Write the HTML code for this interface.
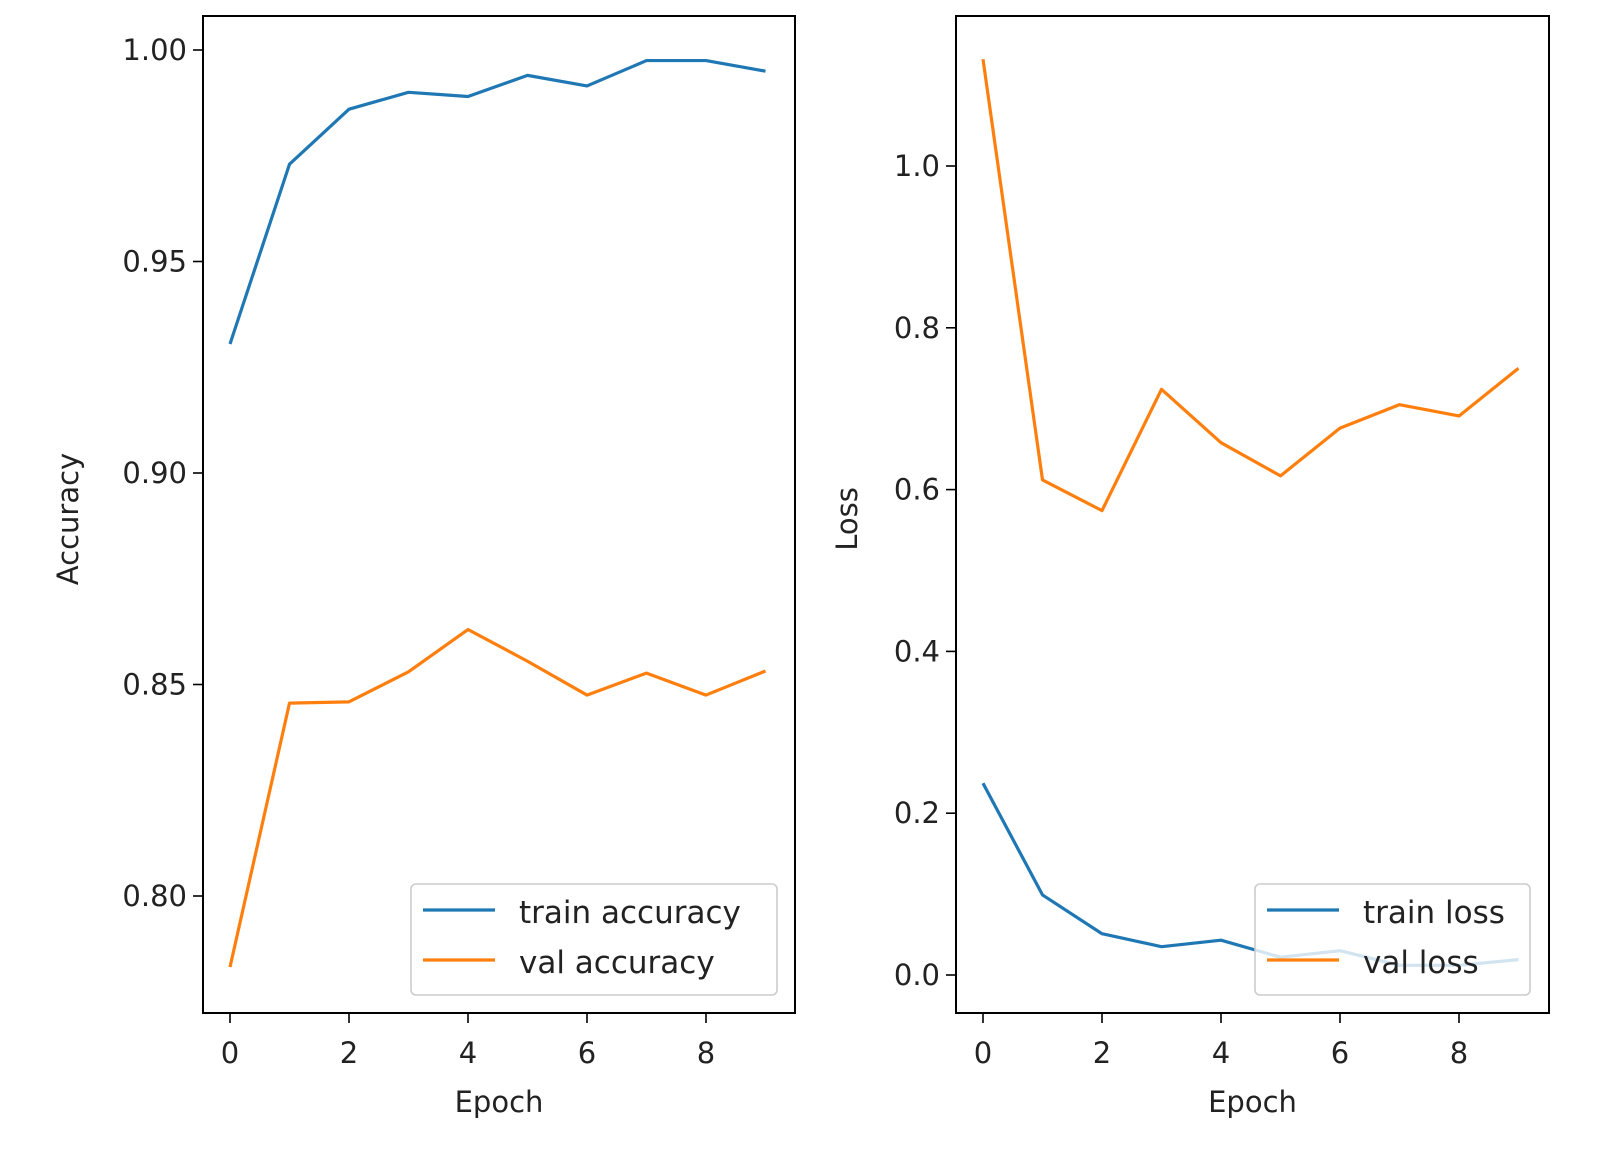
<!DOCTYPE html>
<html><head><meta charset="utf-8"><style>
html,body{margin:0;padding:0;background:#fff;}
svg{display:block;font-family:"DejaVu Sans","Liberation Sans",sans-serif;}
</style></head><body>
<svg id="chart" width="1602" height="1150" viewBox="0 0 1602 1150"></svg>
<script>
const epochs=[0,1,2,3,4,5,6,7,8,9];
const trainAcc=[0.9305,0.973,0.986,0.990,0.989,0.994,0.9915,0.9975,0.9975,0.995];
const valAcc=[0.7832,0.8456,0.8459,0.853,0.863,0.8555,0.8475,0.8527,0.8475,0.8532];
const trainLoss=[0.237,0.099,0.051,0.035,0.043,0.022,0.030,0.012,0.012,0.019];
const valLoss=[1.132,0.612,0.574,0.724,0.658,0.617,0.676,0.705,0.691,0.750];
const xTicks=[0,2,4,6,8];
const accTicks=[0.80,0.85,0.90,0.95,1.00];
const lossTicks=[0.0,0.2,0.4,0.6,0.8,1.0];
const NS="http://www.w3.org/2000/svg";
const svg=document.getElementById('chart');
function mk(tag,attrs,parent){const e=document.createElementNS(NS,tag);for(const k in attrs)e.setAttribute(k,attrs[k]);(parent||svg).appendChild(e);return e;}
function panel(o){
  const g=mk('g',{});
  
  
  const xs=v=>o.x0+(v-0)*o.xpx;
  const ys=v=>o.yRef+(o.vRef-v)*o.ypx;
  // lines
  [[o.a,'#1f77b4',o.aName],[o.b,'#ff7f0e',o.bName]].forEach(([arr,c,n])=>{
    const p=mk('polyline',{points:arr.map((v,i)=>xs(epochs[i])+','+ys(v)).join(' '),fill:'none',stroke:c,'stroke-width':3.2,'stroke-linejoin':'round'},g);
    
    
  });
  const fr=mk('rect',{x:o.L,y:16,width:o.R-o.L,height:997,fill:'none',stroke:'#000','stroke-width':2},g);
  
  
  xTicks.forEach(t=>{
    mk('line',{x1:xs(t),x2:xs(t),y1:1013,y2:1023,stroke:'#000','stroke-width':1.6},g);
    const tx=mk('text',{x:xs(t),y:1063,'text-anchor':'middle','font-size':29,fill:'#222'},g);tx.textContent=String(t);
    
    
  });
  o.yt.forEach(t=>{
    mk('line',{x1:o.L-10,x2:o.L,y1:ys(t),y2:ys(t),stroke:'#000','stroke-width':1.6},g);
    const tx=mk('text',{x:o.L-16,y:ys(t)+10,'text-anchor':'end','font-size':29,fill:'#222'},g);tx.textContent=t.toFixed(o.dec);
    
    
  });
  const xl=mk('text',{x:(o.L+o.R)/2,y:1112,'text-anchor':'middle','font-size':29,fill:'#222'},g);xl.textContent='Epoch';
  
  
  const yl=mk('text',{x:0,y:0,'text-anchor':'middle','font-size':29,fill:'#222',transform:`translate(${o.ylx},${o.yly}) rotate(-90)`},g);yl.textContent=o.ylabel;
  
  
  const lg=mk('g',{},g);
  
  
  mk('rect',{x:o.lx,y:884,width:o.lw,height:111,rx:5,fill:'rgba(255,255,255,0.8)',stroke:'#ccc','stroke-width':1.6},lg);
  [[o.aLabel,'#1f77b4',913],[o.bLabel,'#ff7f0e',963]].forEach(([t,c,y])=>{
    mk('line',{x1:o.lx+12,x2:o.lx+84,y1:y-3,y2:y-3,stroke:c,'stroke-width':3.2},lg);
    const tx=mk('text',{x:o.lx+108,y:y+10,'font-size':31,fill:'#222'},lg);tx.textContent=t;
    
    
  });
}
panel({name:'accuracy-panel',L:203,R:795,x0:230,xpx:59.5,yRef:50,vRef:1.0,ypx:211.5/0.05,a:trainAcc,b:valAcc,aName:'train-accuracy-line',bName:'val-accuracy-line',yt:accTicks,dec:2,ylabel:'Accuracy',ylx:78,yly:519,lx:411,lw:366,aLabel:'train accuracy',bLabel:'val accuracy'});
panel({name:'loss-panel',L:956,R:1549,x0:983,xpx:59.5,yRef:975,vRef:0,ypx:161.8/0.2,a:trainLoss,b:valLoss,aName:'train-loss-line',bName:'val-loss-line',yt:lossTicks,dec:1,ylabel:'Loss',ylx:857,yly:519,lx:1255,lw:275,aLabel:'train loss',bLabel:'val loss'});
</script>
</body></html>
